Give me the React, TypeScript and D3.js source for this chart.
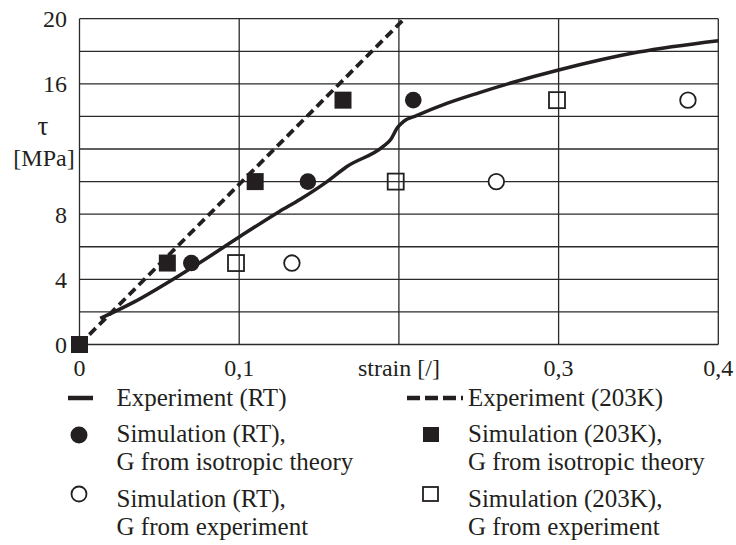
import React from 'react';
import * as d3 from 'd3';

// strain [/] vs tau [MPa]
const expRT: [number, number][] = [
  [0.013, 1.6], [0.034, 2.6], [0.061, 4.15], [0.075, 5.0], [0.1, 6.6], [0.125, 8.15],
  [0.138, 8.9], [0.155, 10.0], [0.167, 10.9], [0.19, 12.15], [0.195, 12.6], [0.199, 13.3],
  [0.203, 13.7], [0.211, 14.05], [0.23, 14.8], [0.25, 15.45], [0.27, 16.05], [0.3, 16.85],
  [0.35, 17.95], [0.4, 18.65],
];
const exp203K: [number, number][] = [[0, 0], [0.2034, 20]];
const simRTIso: [number, number][] = [[0.07, 5], [0.143, 10], [0.209, 15]];
const sim203KIso: [number, number][] = [[0, 0], [0.055, 5], [0.11, 10], [0.165, 15]];
const simRTExp: [number, number][] = [[0.133, 5], [0.261, 10], [0.381, 15]];
const sim203KExp: [number, number][] = [[0.098, 5], [0.198, 10], [0.299, 15]];

const yTicks = [0, 4, 8, 16, 20];
const yGrid = [0, 2, 4, 6, 8, 10, 12, 14, 16, 18, 20];
const xGrid = [0, 0.1, 0.2, 0.3, 0.4];
const xTickLabels: [number, string][] = [[0, '0'], [0.1, '0,1'], [0.2, 'strain [/]'], [0.3, '0,3'], [0.4, '0,4']];

const W = 736;
const H = 545;
const INK = '#231f20';
const serif = (size: number): React.CSSProperties => ({ fontFamily: "'Liberation Serif'", fontSize: size });

const x = d3.scaleLinear().domain([0, 0.4]).range([79.5, 718.3]);
const y = d3.scaleLinear().domain([0, 20]).range([344.5, 18.7]);

const App: React.FC = () => {
  const curve = d3.line<[number, number]>().x(d => x(d[0])).y(d => y(d[1])).curve(d3.curveMonotoneX);
  const straight = d3.line<[number, number]>().x(d => x(d[0])).y(d => y(d[1]));
  const sq = 17;

  return (
    <svg width={W} height={H} style={{ position: 'absolute', left: 0, top: 0, background: 'white' }}>
      {/* grid */}
      <g stroke="#2a2a2a" strokeWidth={1.3}>
        {yGrid.map(v => <line key={'h' + v} x1={x(0)} x2={x(0.4)} y1={y(v)} y2={y(v)} />)}
        {xGrid.map(v => <line key={'v' + v} x1={x(v)} x2={x(v)} y1={y(0)} y2={y(20)} />)}
      </g>

      {/* tick labels */}
      <g fill={INK} style={serif(24)}>
        {yTicks.map(v => (
          <text key={v} x={67} y={y(v)} dy="0.35em" textAnchor="end">{v}</text>
        ))}
        {xTickLabels.map(([v, t]) => (
          <text key={t} x={x(v)} y={376} textAnchor="middle">{t}</text>
        ))}
      </g>

      {/* y label */}
      <text x={43} y={135} textAnchor="middle" fill={INK} style={serif(27)}>τ</text>
      <text x={44} y={166} textAnchor="middle" fill={INK} style={serif(24)}>[MPa]</text>

      {/* lines */}
      <path d={curve(expRT) as string} fill="none" stroke={INK} strokeWidth={3.5} />
      <path d={straight(exp203K) as string} fill="none" stroke={INK} strokeWidth={3.8} strokeDasharray="9,5" />

      {/* markers */}
      {sim203KIso.map((d, i) => (
        <rect key={'fs' + i} x={x(d[0]) - sq / 2} y={y(d[1]) - sq / 2} width={sq} height={sq} fill={INK} />
      ))}
      {simRTIso.map((d, i) => (
        <circle key={'fc' + i} cx={x(d[0])} cy={y(d[1])} r={8.3} fill={INK} />
      ))}
      {simRTExp.map((d, i) => (
        <circle key={'oc' + i} cx={x(d[0])} cy={y(d[1])} r={7.8} fill="white" stroke={INK} strokeWidth={1.8} />
      ))}
      {sim203KExp.map((d, i) => (
        <rect key={'os' + i} x={x(d[0]) - 8} y={y(d[1]) - 8} width={16} height={16}
          fill="none" stroke={INK} strokeWidth={1.8} />
      ))}

      {/* legend */}
      <g fill={INK} style={serif(25)}>
        <line x1={68} x2={93} y1={398} y2={398} stroke={INK} strokeWidth={4.5} />
        <text x={116.5} y={406}>Experiment (RT)</text>
        <line x1={407} x2={463} y1={398} y2={398} stroke={INK} strokeWidth={4.5} strokeDasharray="13,5" />
        <text x={468} y={406}>Experiment (203K)</text>

        <circle cx={79} cy={435} r={8.5} fill={INK} />
        <text x={116.5} y={442}>Simulation (RT),</text>
        <text x={116.5} y={470}>G from isotropic theory</text>
        <rect x={423} y={427} width={16} height={15} fill={INK} />
        <text x={468} y={442}>Simulation (203K),</text>
        <text x={468} y={470}>G from isotropic theory</text>

        <circle cx={79} cy={494} r={7.5} fill="white" stroke={INK} strokeWidth={1.8} />
        <text x={116.5} y={507}>Simulation (RT),</text>
        <text x={116.5} y={535}>G from experiment</text>
        <rect x={423} y={487} width={15} height={14} fill="none" stroke={INK} strokeWidth={1.8} />
        <text x={468} y={507}>Simulation (203K),</text>
        <text x={468} y={535}>G from experiment</text>
      </g>
    </svg>
  );
};

export default App;
